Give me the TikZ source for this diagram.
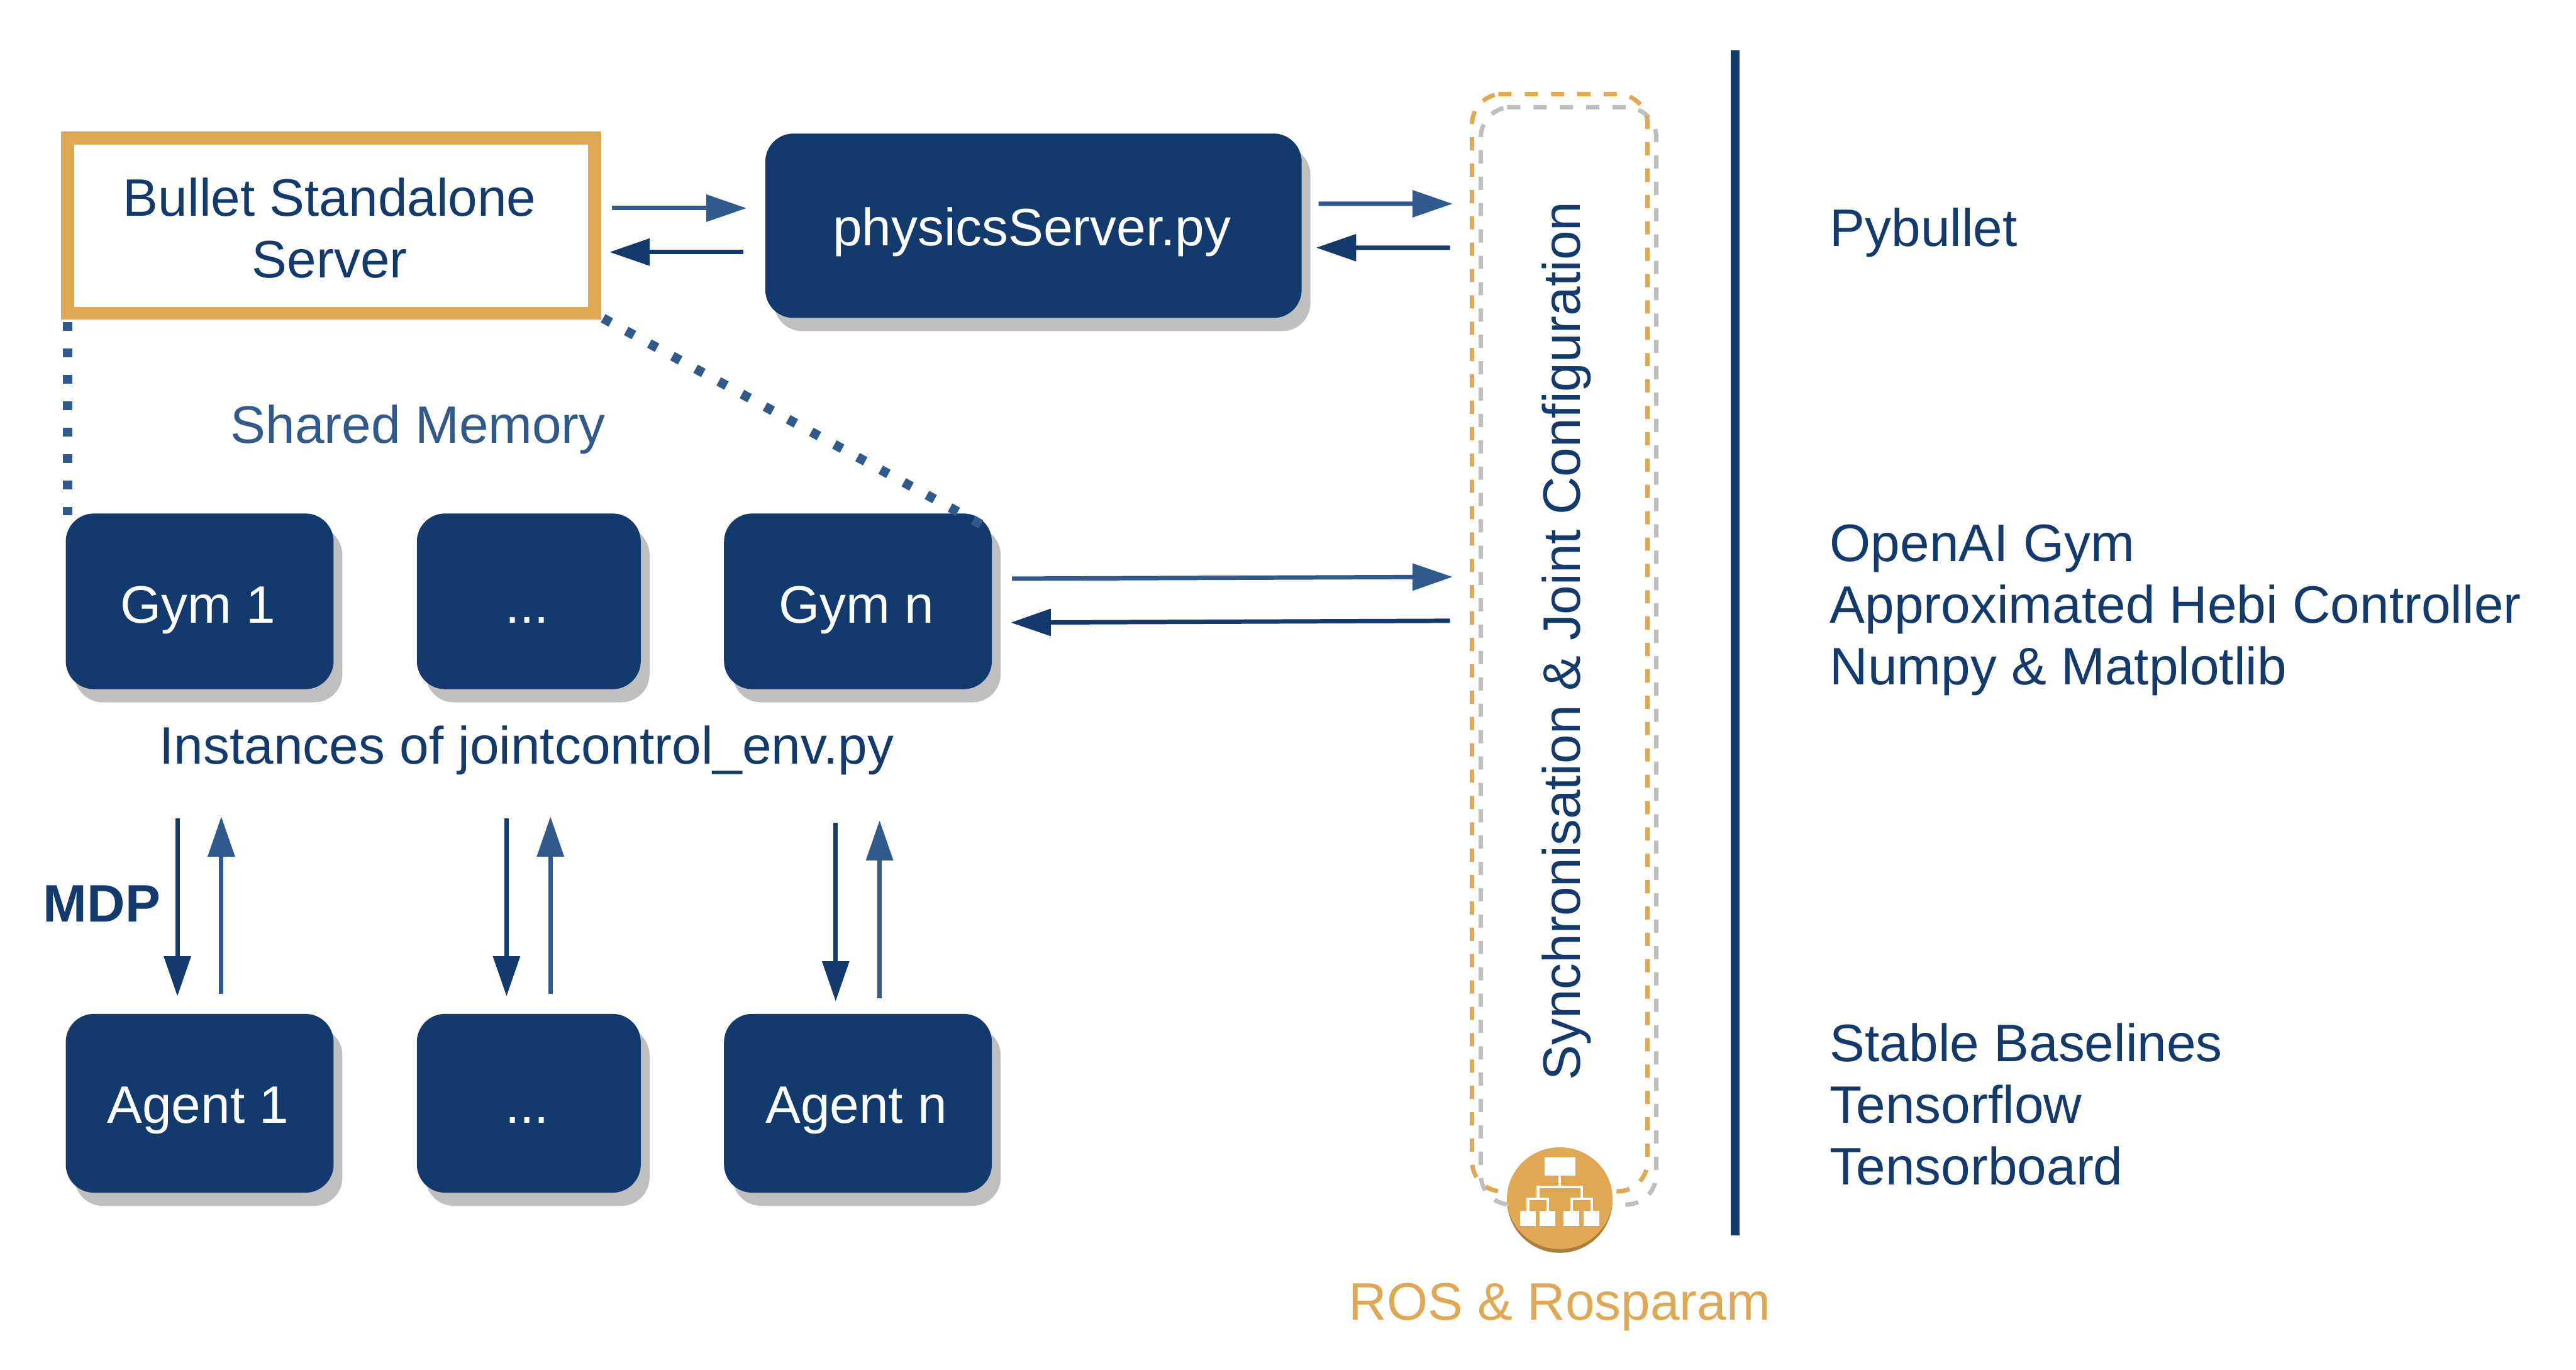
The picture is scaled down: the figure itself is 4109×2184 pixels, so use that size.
\documentclass[tikz,border=0pt]{standalone}
\usepackage{fontspec}
\setmainfont{Liberation Sans}
\usetikzlibrary{arrows.meta,shadows}
\definecolor{navy}{HTML}{123A6D}
\definecolor{steel}{HTML}{315A8C}
\definecolor{amber}{HTML}{E0A852}
\definecolor{amberdark}{HTML}{A87D3E}
\definecolor{shade}{HTML}{BFBFBF}
\tikzset{
  x=0.01cm,y=-0.01cm,
  lab/.style={font=\fontsize{23.9}{27.9}\selectfont,text=navy,inner sep=0pt,outer sep=0pt},
  block/.style={fill=navy,text=white,rounded corners=0.45cm,inner sep=0pt,outer sep=0pt,
    font=\fontsize{23.9}{27.9}\selectfont,text height=0.8cm,text depth=0.1cm,
    execute at end node={\kern0.052cm},
    general shadow={shadow xshift=0.14cm,shadow yshift=-0.21cm,fill=shade}},
  wide/.style={block,minimum width=4.27cm},
  narrow/.style={block,minimum width=3.57cm},
  tall/.style={minimum height=2.8cm},
  talla/.style={minimum height=2.85cm,text height=0.74cm},
  fwd/.style={draw=steel,line width=0.07cm,-{Triangle[length=0.64cm,width=0.42cm,fill=steel]}},
  bwd/.style={draw=navy,line width=0.07cm,-{Triangle[length=0.64cm,width=0.42cm,fill=navy]}},
  dots/.style={draw=steel,line width=0.15cm,dash pattern=on 0.14cm off 0.28cm},
  dashbox/.style={line width=0.07cm,dash pattern=on 0.21cm off 0.21cm,rounded corners=0.48cm},
  iconbox/.style={fill=white,draw=none},
  iconline/.style={draw=white,line width=0.045cm},
}
\begin{document}
\begin{tikzpicture}
\useasboundingbox (0,0) rectangle (4109,2184);
% dashed frames
\draw[dashbox,draw=shade] (2404,171) -- (2642,171) -- (2642,1921) -- (2362,1921) -- (2362,171) -- (2404,171);
\draw[dashbox,draw=amber] (2390,150) -- (2628,150) -- (2628,1900) -- (2348,1900) -- (2348,150) -- (2390,150);
% divider
\coordinate (divtop) at (2768,80);
\coordinate (divbot) at (2768,1970);
\draw[navy,line width=0.14cm] (divtop) -- (divbot);
% nodes
\node[draw=amber,line width=0.21cm,minimum width=8.40cm,minimum height=2.79cm,align=center,lab,outer sep=0.105cm] (bullet) at (528.5,360)
  {\rule{0pt}{0.68cm}Bullet Standalone\kern0.05cm\\Server\kern0.05cm};
\node[block,minimum width=8.55cm,minimum height=2.94cm,text height=0.74cm] (phys) at (1648.5,360) {physicsServer.py};
\node[wide,tall] (gym1) at (318.5,959) {Gym 1};
\node[narrow,tall] (gym2) at (843.5,959) {...};
\node[wide,tall] (gymn) at (1368.5,959) {Gym n};
\node[wide,talla] (ag1) at (318.5,1759.5) {Agent 1};
\node[narrow,talla] (ag2) at (843.5,1759.5) {...};
\node[wide,talla] (agn) at (1368.5,1759.5) {Agent n};
% coordinates on the sync frame
\coordinate (s1) at (2317,325);
\coordinate (s2) at (2313,395);
\coordinate (s3) at (2317,920);
\coordinate (s4) at (2313,990);
% labels
\node[lab,text=steel,anchor=base] (shm) at (667,707) {Shared Memory};
\node[lab,anchor=base] (inst) at (840,1218) {Instances of jointcontrol\_env.py};
\node[lab,anchor=base west,font=\fontsize{23.9}{27.9}\selectfont\bfseries] (mdp) at (69,1470) {MDP};
\node[lab,anchor=base,rotate=90] (synclab) at (2520,1022) {Synchronisation \& Joint Configuration};
\node[lab,anchor=base,text=amber] (roslab) at (2488,2105) {ROS \& Rosparam};
\node[lab,anchor=base west] (t1) at (2919,393) {Pybullet};
\node[lab,anchor=base west,align=left] (t2) at (2919,1092) {OpenAI Gym\\Approximated Hebi Controller\\Numpy \& Matplotlib};
\node[lab,anchor=base west,align=left] (t3) at (2919,1889) {Stable Baselines\\Tensorflow\\Tensorboard};
% connectors
\draw[fwd,shorten <=0.17cm,shorten >=0.30cm] ([yshift=0.28cm]bullet.east) -- ([yshift=0.28cm]bullet.east -| phys.west);
\draw[bwd,shorten <=0.35cm,shorten >=0.13cm] ([yshift=-0.42cm]phys.west) -- ([yshift=-0.42cm]phys.west -| bullet.east);
\draw[fwd,shorten <=0.27cm] ([yshift=0.35cm]phys.east) -- (s1);
\draw[bwd,shorten >=0.23cm] (s2) -- ([yshift=-0.35cm]phys.east);
\draw[fwd,shorten <=0.32cm] ([yshift=0.36cm]gymn.east) -- (s3);
\draw[bwd,shorten >=0.30cm] (s4) -- ([yshift=-0.34cm]gymn.east);
\draw[bwd] ([xshift=-0.355cm,yshift=-2.06cm]gym1.south) -- ([xshift=-0.355cm,yshift=0.28cm]ag1.north);
\draw[fwd] ([xshift=0.345cm,yshift=0.32cm]ag1.north) -- ([xshift=0.345cm,yshift=-2.03cm]gym1.south);
\draw[bwd] ([xshift=-0.355cm,yshift=-2.06cm]gym2.south) -- ([xshift=-0.355cm,yshift=0.28cm]ag2.north);
\draw[fwd] ([xshift=0.345cm,yshift=0.32cm]ag2.north) -- ([xshift=0.345cm,yshift=-2.03cm]gym2.south);
\draw[bwd] ([xshift=-0.355cm,yshift=-2.13cm]gymn.south) -- ([xshift=-0.355cm,yshift=0.20cm]agn.north);
\draw[fwd] ([xshift=0.345cm,yshift=0.25cm]agn.north) -- ([xshift=0.345cm,yshift=-2.09cm]gymn.south);
\draw[dots] (108,514) -- (108,822);
\draw[dots] (962,507.6) -- (1566,837);
% ROS icon
\node[circle,fill=amberdark,minimum size=1.68cm,inner sep=0pt] (ros) at (2488,1914) {};
\fill[amber] (2488,1911) ellipse [x radius=0.84cm,y radius=0.81cm];
\fill[iconbox] (2464,1846) rectangle (2513,1875);
\draw[iconline] (2488,1875) -- (2488,1893);
\draw[iconline] (2453,1912) -- (2453,1893) -- (2523,1893) -- (2523,1912);
\draw[iconline] (2437,1931) -- (2437,1912) -- (2469,1912) -- (2469,1931);
\draw[iconline] (2507,1931) -- (2507,1912) -- (2539,1912) -- (2539,1931);
\fill[iconbox] (2425,1931) rectangle (2450,1955);
\fill[iconbox] (2456,1931) rectangle (2481,1955);
\fill[iconbox] (2494,1931) rectangle (2519,1955);
\fill[iconbox] (2526,1931) rectangle (2551,1955);
\end{tikzpicture}
\end{document}
